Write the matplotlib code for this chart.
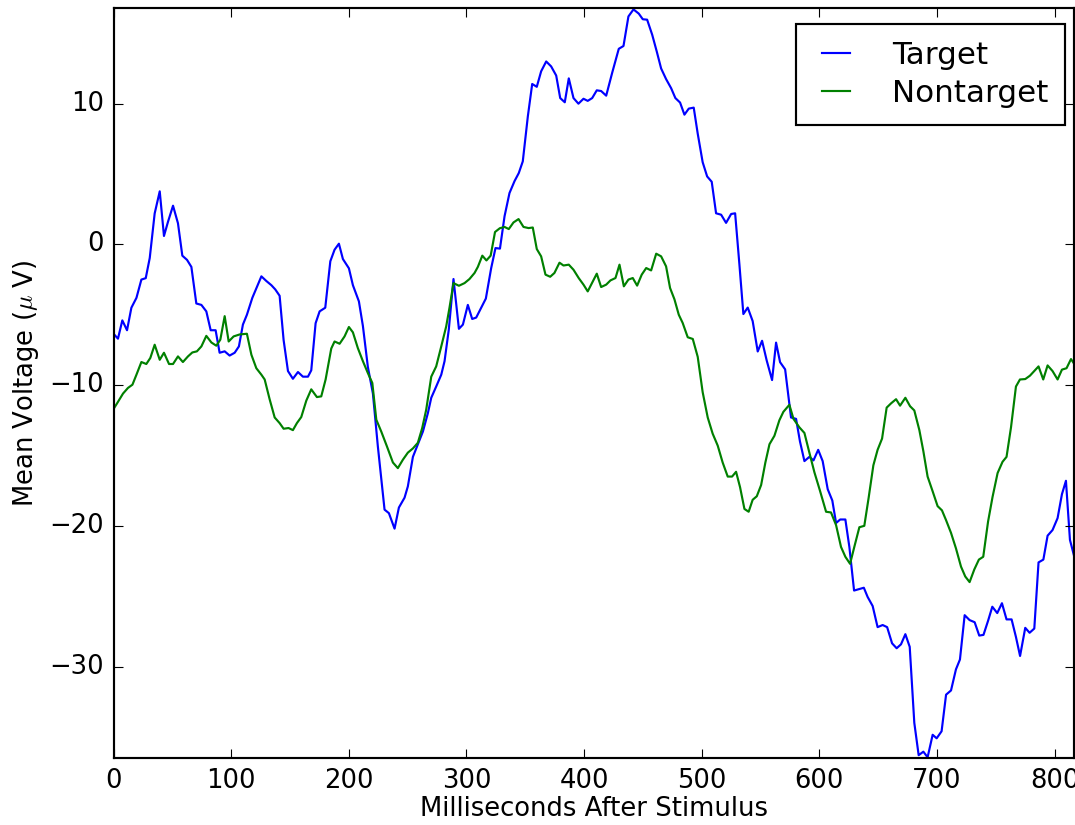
import matplotlib
matplotlib.use("Agg")
import matplotlib.pyplot as plt

target_ms = [0, 3.8, 7.5, 11.5, 15.2, 19.5, 23.7, 27.4, 30.8, 35, 39.3, 42.9, 46.3, 50.6, 54.8, 58.5,
             62.5, 66.2, 70.4, 74.7, 78.9, 82.6, 86.8, 90.2, 94.5, 98.7, 103, 106.6, 110, 113.4, 118,
             125.7, 129.9, 134.2, 137.5, 141.2, 144.6, 148.3, 152.5, 156.8, 161, 165.3, 168.1, 171.8,
             175.2, 180, 184.3, 187.9, 191.6, 195, 200.1, 203.5, 208.6, 212, 216.2, 220.5, 224.7,
             230.4, 234.1, 238.9, 242.6, 247.4, 250.2, 254.5, 258.7, 263, 267.2, 270.1, 274.3, 278.6,
             281.4, 285, 289, 293.6, 297, 301.2, 304.9, 308.3, 312.6, 316.5, 321, 324.7, 328.5, 332.4,
             336.6, 340.9, 344.5, 347.9, 352.2, 355.9, 359.8, 363.5, 367.8, 372, 376.3, 379.7, 383.6,
             387, 391, 395.2, 399.5, 403.1, 406.9, 410.8, 414.5, 418.8, 423.9, 429.5, 433.5, 437.7,
             442, 446.5, 449.9, 453.6, 457.9, 461.8, 465.5, 469.7, 474, 477.6, 481.6, 485.3, 489,
             493.2, 496.6, 500.8, 504.6, 508.5, 512.2, 516.5, 520.7, 525, 528.4, 532, 535.4, 539.1,
             543.3, 547.6, 551.3, 555.2, 559.8, 563.2, 566.6, 570.9, 575.9, 580.2, 583.5, 587.3,
             591.5, 595, 599, 602.8, 607.1, 611, 614.2, 617.7, 622.1, 625.5, 629.5, 633.7, 637.8,
             641, 645.3, 649.5, 653.8, 657.6, 661.8, 665.7, 669.4, 673.1, 676.8, 680.7, 684.4, 688.4,
             692, 696.3, 699.7, 703.9, 707.7, 711.9, 716.1, 719.5, 723.5, 727.7, 732, 735.9, 739.5,
             743.4, 747, 751.2, 755.2, 759.1, 763.4, 767.1, 770.6, 775, 778.7, 782.7, 786.3, 790.4,
             794, 798.2, 802.5, 806.2, 809.6, 813, 816.7]
target_uv = [-6.35, -6.7, -5.4, -6.1, -4.5, -3.8, -2.5, -2.4, -0.97, 2.2, 3.77, 0.6, 1.6, 2.75, 1.5, -0.8,
             -1.1, -1.6, -4.2, -4.3, -4.76, -6.1, -6.1, -7.7, -7.6, -7.9, -7.7, -7.25, -5.7, -5.0, -3.8,
             -2.27, -2.6, -2.9, -3.2, -3.65, -6.8, -9.0, -9.55, -9.07, -9.4, -9.4, -8.95, -5.6,
             -4.76, -4.5, -1.2, -0.38, 0.05, -1.04, -1.7, -2.9, -4.05, -5.8, -8.7, -10.6, -14.35,
             -18.85, -19.1, -20.2, -18.7, -18.0, -17.2, -15.1, -14.2, -13.3, -12.0, -10.9, -10.1, -9.26,
             -8.3, -6.06, -2.46, -6.0, -5.7, -4.3, -5.3, -5.2, -4.5, -3.85, -1.7, -0.26, -0.3, 2.0,
             3.65, 4.5, 5.07, 5.9, 9.1, 11.4, 11.2, 12.3, 13.0, 12.65, 12.0, 10.4, 10.1,
             11.8, 10.4, 10.0, 10.35, 10.2, 10.4, 10.95, 10.9, 10.57, 12.2, 13.9, 14.1, 16.2,
             16.7, 16.4, 16.0, 15.97, 14.9, 13.7, 12.5, 11.75, 11.1, 10.4, 10.08, 9.22, 9.65,
             9.72, 7.87, 5.84, 4.83, 4.45, 2.21, 2.11, 1.53, 2.16, 2.21, -1.39, -4.95, -4.49,
             -5.45, -7.61, -6.85, -8.24, -9.64, -6.98, -8.37, -8.88, -12.3, -12.4, -14.0, -15.4,
             -15.1, -15.35, -14.6, -15.4, -17.4, -18.2, -19.8, -19.55, -19.55, -21.5, -24.6, -24.5, -24.4,
             -25.05, -25.7, -27.2, -27.05, -27.2, -28.35, -28.7, -28.42, -27.7, -28.6, -34.0, -36.3, -36.05,
             -36.45, -34.85, -35.1, -34.6, -32.0, -31.7, -30.2, -29.5, -26.35, -26.7, -26.85, -27.8, -27.75,
             -26.75, -25.75, -26.2, -25.5, -26.65, -26.65, -27.9, -29.25, -27.25, -27.6, -27.3, -22.6, -22.4,
             -20.7, -20.3, -19.45, -17.75, -16.8, -21.0, -22.2]

nontarget_ms = [0, 3, 8.1, 12.3, 16.1, 19.5, 23.7, 27.9, 31.3, 35, 39.3, 42.9, 47.2, 50.6, 54.8, 59,
                63.3, 67, 70.9, 74.7, 78.9, 83.2, 87.4, 90.8, 94.5, 97.9, 102.1, 107.2, 113.4, 117.2,
                121.4, 125.7, 128.5, 132.7, 137, 141.2, 144.6, 148.8, 152.5, 155.9, 159.6, 163.9, 168.1,
                172.9, 176.6, 180.3, 185.1, 187.9, 192.2, 196.4, 200.1, 203.5, 207.7, 212, 216.2, 220,
                223.4, 227.6, 232.4, 237.5, 241.7, 246, 250.2, 254.5, 258.7, 262.4, 265.8, 270.1, 274.3,
                278.6, 282.8, 285.6, 289, 293.6, 298.4, 302.6, 306.9, 309.7, 313.5, 317, 320.6, 324.3,
                328.4, 332.4, 336, 340, 344.3, 348.5, 352.8, 356.4, 359.8, 363.5, 367.2, 371.2, 374.8,
                379.1, 382.5, 387, 391, 395.5, 399.5, 403.1, 407.4, 410.8, 414.5, 418.8, 422.4, 426.7,
                430.1, 433.8, 437.7, 441.4, 445.1, 449, 452.8, 457, 461.3, 465.5, 469.7, 473.1, 476.8,
                480.5, 483.8, 488.1, 492.4, 496.6, 500.8, 505.1, 509.3, 513.6, 517.8, 522.1, 525.8,
                529.2, 532.6, 536.3, 539.9, 543.3, 546.8, 550.5, 554.1, 557.6, 561.8, 566, 569.4, 574.5,
                578, 583, 587.3, 591.5, 595.8, 600.5, 605.7, 609.9, 614.2, 618.4, 622.1, 626.1, 629.7,
                634, 638.2, 641.9, 645.9, 649.5, 653.3, 657.2, 660.9, 665.2, 668.6, 673.1, 677.1, 680.7,
                685, 688.4, 692, 696.3, 700.5, 704.2, 707.7, 711.9, 716.1, 720.4, 724, 727.7, 731.7,
                735.6, 739.3, 743.4, 747.2, 751.5, 755.7, 759.1, 762.9, 767.1, 770.5, 775, 779, 782.7,
                786.3, 790.3, 794, 798.2, 802.5, 806.2, 810.1, 813.9, 816.7]
nontarget_uv = [-11.7, -11.3, -10.6, -10.2, -9.97, -9.26, -8.36, -8.5, -8.07, -7.13, -8.2, -7.7, -8.5, -8.5, -7.96, -8.36,
                -7.96, -7.68, -7.6, -7.25, -6.5, -6.97, -7.2, -6.77, -5.1, -6.9, -6.54, -6.4, -6.35, -7.84,
                -8.8, -9.26, -9.6, -11.0, -12.3, -12.7, -13.1, -13.05, -13.2, -12.7, -12.27, -11.1, -10.3,
                -10.85, -10.8, -9.6, -7.4, -6.9, -7.06, -6.54, -5.87, -6.25, -7.37, -8.3, -9.14, -9.85,
                -12.46, -13.3, -14.35, -15.5, -15.9, -15.3, -14.8, -14.5, -14.1, -13.05, -11.75, -9.4, -8.67,
                -7.25, -5.83, -4.5, -2.75, -2.94, -2.75, -2.46, -2.03, -1.6, -0.8, -1.14, -0.8, 0.88,
                1.15, 1.24, 1.09, 1.56, 1.8, 1.24, 1.16, 1.2, -0.33, -0.85, -2.15, -2.3, -2.03,
                -1.3, -1.5, -1.44, -1.8, -2.4, -2.86, -3.34, -2.63, -2.08, -3.03, -2.86, -2.56, -2.39,
                -1.44, -2.98, -2.5, -2.39, -2.93, -2.15, -1.68, -1.85, -0.66, -0.85, -1.56, -3.1, -3.9,
                -5.0, -5.58, -6.6, -6.72, -7.99, -10.5, -12.3, -13.45, -14.3, -15.5, -16.5, -16.5,
                -16.16, -17.26, -18.8, -19.0, -18.15, -17.9, -17.1, -15.5, -14.2, -13.6, -12.5, -11.9, -11.4,
                -12.4, -13.0, -13.4, -14.8, -16.2, -17.5, -19.0, -19.05, -19.95, -21.5, -22.2, -22.7, -21.5,
                -20.1, -20.0, -18.0, -15.7, -14.6, -13.8, -11.6, -11.3, -11.0, -11.46, -10.9, -11.5, -11.8,
                -13.2, -14.7, -16.5, -17.55, -18.6, -18.9, -19.6, -20.5, -21.6, -22.9, -23.6, -24.0, -23.1,
                -22.4, -22.2, -19.7, -17.95, -16.25, -15.45, -15.1, -13.0, -10.1, -9.6, -9.57, -9.33, -9.0,
                -8.67, -9.6, -8.6, -9.0, -9.6, -8.9, -8.8, -8.15, -8.5]

series_labels = ["Target", "Nontarget"]
x_ticks = [0, 100, 200, 300, 400, 500, 600, 700, 800]
y_ticks = [-30, -20, -10, 0, 10]

plt.style.use("classic")
plt.rcParams["font.family"] = ["DejaVu Sans"]

fig = plt.figure(figsize=(10.75, 8.25), dpi=100, facecolor="white")
ax = fig.add_axes([113.5 / 1075, 1 - 758 / 825, (1074.3 - 113.5) / 1075, (758 - 8) / 825])
ax.set_facecolor("white")

ax.plot(target_ms, target_uv, color="#0000ff", lw=1.55, label=series_labels[0])
ax.plot(nontarget_ms, nontarget_uv, color="#008000", lw=1.55, label=series_labels[1])

ax.set_xlim(0, 816.7)
ax.set_ylim(-36.5, 16.8)
ax.set_xticks(x_ticks)
ax.set_yticks(y_ticks)
ax.tick_params(direction="in", length=6.2, width=0.8, labelsize=18.6, top=True, right=True, pad=7)
for s in ax.spines.values():
    s.set_linewidth(1.55)

ax.set_xlabel("Milliseconds After Stimulus", fontsize=18.6, labelpad=2)
ax.set_ylabel(r"Mean Voltage ($\mu$ V)", fontsize=18.6, labelpad=6)

leg = ax.legend(loc="upper right", bbox_to_anchor=(0.9906, 0.9787), borderaxespad=0,
                fontsize=22.3, handlelength=1.5, handletextpad=1.05, labelspacing=0.3,
                borderpad=0.55, fancybox=False, frameon=True, numpoints=2)
leg.get_frame().set_linewidth(1.55)
leg.get_frame().set_edgecolor("black")

fig.savefig("out.png", dpi=100, facecolor="white")
